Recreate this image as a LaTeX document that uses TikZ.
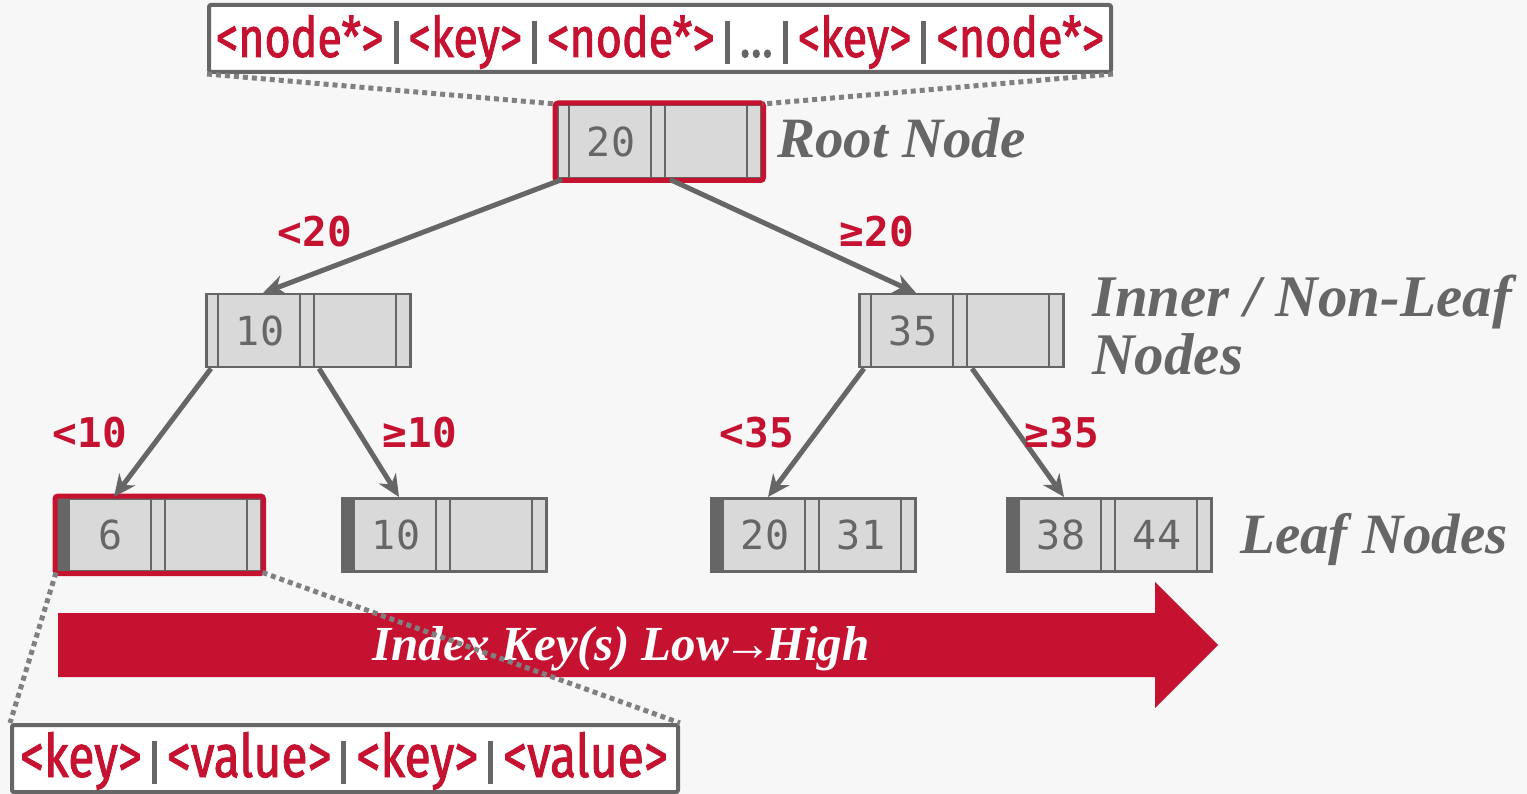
\documentclass[tikz,border=0pt]{standalone}
\usepackage{fontspec}
\usetikzlibrary{arrows.meta}
\newfontfamily\serifit{Liberation Serif}
\newfontfamily\keymono{DejaVu Sans Mono}
\newfontfamily\fmtfont{Fira Sans}[FakeStretch=0.8,FakeBold=1.5]
\definecolor{cmured}{HTML}{C41230}
\definecolor{dgray}{HTML}{666666}
\definecolor{cellgray}{HTML}{D9D9D9}
\definecolor{bggray}{HTML}{F7F7F7}
\definecolor{dotgray}{HTML}{808080}
\tikzset{
  cellbox/.style={draw=dgray, fill=cellgray, line width=2.5pt, minimum width=204pt, minimum height=73pt, inner sep=0pt},
  cellline/.style={draw=dgray, line width=2.5pt},
  keytext/.style={text=dgray, font=\keymono\fontsize{40}{40}\selectfont, inner sep=0pt},
  edge/.style={draw=dgray, line width=5pt, -{Stealth[length=22pt,width=20pt]}},
  cond/.style={text=cmured, font=\keymono\bfseries\fontsize{41}{41}\selectfont, inner sep=0pt},
  hl/.style={draw=cmured, line width=5pt, rounded corners=3pt},
  dotline/.style={draw=dotgray, line width=5pt, dash pattern=on 5pt off 4pt},
  fmtbox/.style={draw=dgray, fill=white, line width=4pt, rounded corners=2pt, inner sep=0pt},
  fmttext/.style={font=\fmtfont\fontsize{56}{56}\selectfont, inner sep=0pt, anchor=base},
  sidelabel/.style={text=dgray, font=\serifit\bfseries\itshape\fontsize{57}{57}\selectfont, inner sep=0pt, anchor=base west},
}
\newcommand\rd[1]{\textcolor{cmured}{#1}}
\newcommand\pp{\kern10pt\textcolor{dgray}{\rule[-7pt]{5pt}{43pt}}\kern10pt}
\newcommand\btnode[6]{% name, left x, top y, key1, key2, leaf flag
  \node[cellbox, anchor=north west] (#1) at (#2,#3) {};
  \ifnum#6=1 \fill[dgray] (#1.north west) rectangle ([xshift=13pt]#1.south west);\fi
  \foreach \o in {13,95,109,191}{\draw[cellline] ([xshift=\o pt]#1.north west) -- ([xshift=\o pt]#1.south west);}
  \node[keytext] (#1-k1) at ([xshift=55pt]#1.west) {#4};
  \node[keytext] (#1-k2) at ([xshift=151pt]#1.west) {#5};
  \coordinate (#1-p0) at ([xshift=6pt]#1.south west);
  \coordinate (#1-p1) at ([xshift=114pt]#1.south west);
  \coordinate (#1-in) at ([xshift=58pt]#1.north west);
}
\begin{document}
\begin{tikzpicture}[x=1pt,y=-1pt]
\fill[bggray] (0,0) rectangle (1527,794);
\useasboundingbox (0,0) rectangle (1527,794);

% tree nodes
\btnode{root}{556}{104}{20}{}{0}
\btnode{ia}{205}{293}{10}{}{0}
\btnode{ib}{858}{293}{35}{}{0}
\btnode{la}{56}{497}{6}{}{1}
\btnode{lb}{341}{497}{10}{}{1}
\btnode{lc}{710}{497}{20}{31}{1}
\btnode{ld}{1006}{497}{38}{44}{1}

% highlights
\draw[hl] ([shift={(-1pt,1pt)}]root.north west) rectangle ([shift={(1pt,-1pt)}]root.south east);
\draw[hl] ([shift={(-1pt,1pt)}]la.north west) rectangle ([shift={(1pt,-1pt)}]la.south east);

% edges
\draw[edge] (root-p0) -- (ia-in);
\draw[edge] (root-p1) -- (ib-in);
\draw[edge] (ia-p0) -- (la-in);
\draw[edge] (ia-p1) -- (lb-in);
\draw[edge] (ib-p0) -- (lc-in);
\draw[edge] (ib-p1) -- (ld-in);

% edge labels
\node[cond] (c1) at (315,232) {<20};
\node[cond] (c2) at (877,232) {≥20};
\node[cond] (c3) at (90,433) {<10};
\node[cond] (c4) at (420,433) {≥10};
\node[cond] (c5) at (757,433) {<35};
\node[cond] (c6) at (1062,433) {≥35};

% side labels
\node[sidelabel] (rootlbl) at (777,158) {Root Node};
\node[sidelabel, font=\serifit\bfseries\itshape\fontsize{59}{59}\selectfont] (innerlbl) at (1092,317) {Inner / Non-Leaf};
\node[sidelabel, font=\serifit\bfseries\itshape\fontsize{59}{59}\selectfont] (innerlbl2) at (1092,375) {Nodes};
\node[sidelabel] (leaflbl) at (1240,553) {Leaf Nodes};

% big arrow
\fill[cmured] (58,613) -- (1155,613) -- (1155,582) -- (1218,645) -- (1155,708) -- (1155,677) -- (58,677) -- cycle;
\node[text=white, font=\serifit\bfseries\itshape\fontsize{49}{49}\selectfont, inner sep=0pt, anchor=base] (idx) at (621,660) {Index Key(s) Low\kern-6pt→\kern-6pt High};

% format boxes
\node[fmtbox, minimum width=902pt, minimum height=67pt] (top) at (660,38.5) {};
\node[fmttext] (toptext) at (660,57) {\rd{<node*>}\pp\rd{<key>}\pp\rd{<node*>}\pp\textcolor{dgray}{…}\pp\rd{<key>}\pp\rd{<node*>}};
\node[fmtbox, minimum width=666pt, minimum height=67pt] (bot) at (345,758.5) {};
\node[fmttext, font=\fmtfont\fontsize{60}{60}\selectfont] (bottext) at (344,777) {\rd{<key>}\pp\rd{<value>}\pp\rd{<key>}\pp\rd{<value>}};

% dotted zoom lines
\draw[dotline] (top.south west) -- (root.north west);
\draw[dotline] (top.south east) -- (root.north east);
\draw[dotline] (la.south west) -- (bot.north west);
\draw[dotline] (la.south east) -- (bot.north east);
\end{tikzpicture}
\end{document}
